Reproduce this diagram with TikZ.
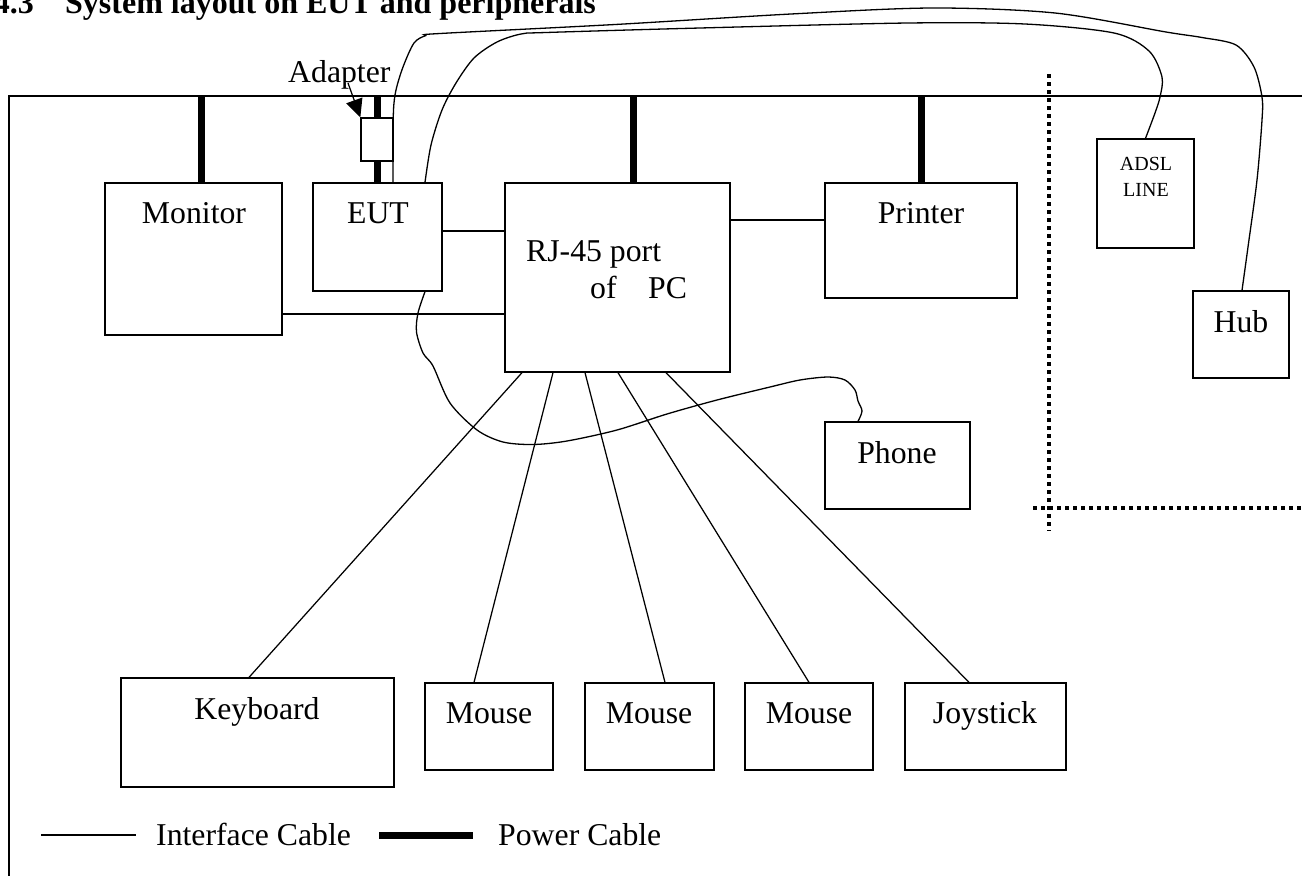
\documentclass[tikz,border=0pt]{standalone}
\usepackage{fontspec}
\setmainfont{Liberation Serif}
\usetikzlibrary{arrows.meta}
\begin{document}
\begin{tikzpicture}[x=1pt,y=-1pt,
  box/.style={draw, line width=1.3pt, inner sep=0pt},
  lbl/.style={font=\fontsize{31.75}{36}\selectfont, inner sep=0pt, anchor=base},
  small/.style={font=\fontsize{20}{24}\selectfont, inner sep=0pt, anchor=base},
  iface/.style={line width=1.25pt},
  power/.style={line width=7pt},
  dotline/.style={line width=3.5pt, dash pattern=on 3.5pt off 4.5pt},
  cable/.style={line width=1.3pt}
]
\useasboundingbox (0,0) rectangle (1302,876);

% title
\node[font=\bfseries\fontsize{32}{36}\selectfont, inner sep=0pt, anchor=base east] (secno) at (34,13) {4.3};
\node[font=\bfseries\fontsize{32}{36}\selectfont, inner sep=0pt, anchor=base west] (title) at (65,13) {System layout on EUT and peripherals};

% frame
\coordinate (fbl) at (9,876);
\coordinate (ftl) at (9,96);
\coordinate (ftr) at (1302,96);
\draw[line width=1.3pt] (fbl) -- (ftl) -- (ftr);

% boxes
\node[box, minimum width=177pt, minimum height=152pt] (monitor) at (193.5,259) {};
\node[box, minimum width=129pt, minimum height=108pt] (eut) at (377.5,237) {};
\node[box, minimum width=225pt, minimum height=189pt] (pc) at (617.5,277.5) {};
\node[box, minimum width=192pt, minimum height=115pt] (printer) at (921,240.5) {};
\node[box, minimum width=97pt, minimum height=109pt] (adsl) at (1145.5,193.5) {};
\node[box, minimum width=96pt, minimum height=87pt] (hub) at (1241,334.5) {};
\node[box, minimum width=145pt, minimum height=87pt] (phone) at (897.5,465.5) {};
\node[box, minimum width=273pt, minimum height=109pt] (keyboard) at (257.5,732.5) {};
\node[box, minimum width=128pt, minimum height=87pt] (mouseA) at (489,726.5) {};
\node[box, minimum width=129pt, minimum height=87pt] (mouseB) at (649.5,726.5) {};
\node[box, minimum width=128pt, minimum height=87pt] (mouseC) at (809,726.5) {};
\node[box, minimum width=161pt, minimum height=87pt] (joystick) at (985.5,726.5) {};
\node[box, minimum width=32pt, minimum height=43pt] (adapter) at (377,139.5) {};

% labels
\node[lbl] (monitorT) at (194,223) {Monitor};
\node[lbl] (eutT) at (378,223) {EUT};
\node[lbl] (printerT) at (921,223) {Printer};
\node[lbl] (hubT) at (1241,332) {Hub};
\node[lbl] (phoneT) at (897,463) {Phone};
\node[lbl] (keyboardT) at (257,719) {Keyboard};
\node[lbl] (mouseAT) at (489,723) {Mouse};
\node[lbl] (mouseBT) at (649,723) {Mouse};
\node[lbl] (mouseCT) at (809,723) {Mouse};
\node[lbl] (joystickT) at (985,723) {Joystick};
\node[small] (adslT) at (1146,170) {ADSL};
\node[small] (lineT) at (1146,196) {LINE};
\node[lbl, anchor=base west] (pcT1) at (526,261) {RJ-45 port};
\node[lbl, anchor=base west] (pcT2) at (590,298) {of\hspace{31.6pt}PC};
\node[lbl, anchor=base west] (adapterT) at (288,82) {Adapter};

% adapter arrow
\coordinate (adArrow) at ([xshift=60pt,yshift=-1pt]adapterT.base west);
\draw[iface, -{Triangle[length=18pt,width=17pt]}] (adArrow) -- (adapter.north west);

% power cables
\coordinate (pMon) at (201,96);
\coordinate (pEut) at (377,96);
\coordinate (pPc) at (633,96);
\coordinate (pPri) at (921,96);
\draw[power] (pMon) -- (pMon |- monitor.north);
\draw[power] (pEut) -- (adapter.north);
\draw[power] (adapter.south) -- (adapter.south |- eut.north);
\draw[power] (pPc) -- (pPc |- pc.north);
\draw[power] (pPri) -- (printer.north);

% interface cables
\draw[iface] ([yshift=6pt]eut.east) -- ([yshift=6pt]eut.east -| pc.west);
\draw[iface] ([yshift=-55pt]monitor.east) -- ([yshift=-55pt]monitor.east -| pc.west);
\draw[iface] ([yshift=57.5pt]pc.east) -- ([yshift=57.5pt]pc.east -| printer.west);
\draw[iface] ([xshift=-95.5pt]pc.south) -- ([xshift=-8.5pt]keyboard.north);
\draw[iface] ([xshift=-64.5pt]pc.south) -- ([xshift=-15pt]mouseA.north);
\draw[iface] ([xshift=-32.5pt]pc.south) -- ([xshift=15.5pt]mouseB.north);
\draw[iface] ([xshift=0.5pt]pc.south) -- (mouseC.north);
\draw[iface] ([xshift=48.5pt]pc.south) -- ([xshift=-16.5pt]joystick.north);

% curved cables
\coordinate (eutA) at ([xshift=15.5pt]eut.north);
\coordinate (eutB) at ([xshift=47.5pt]eut.north);
\coordinate (eutC) at ([xshift=47.5pt]eut.south);
\coordinate (hubA) at ([xshift=1pt]hub.north);
\coordinate (adslA) at (adsl.north);
\coordinate (phoneA) at ([xshift=-39.5pt]phone.north);

\draw[cable] plot[smooth, tension=0.5] coordinates {(eutA) (393,150) (393.5,110) (396,90) (403,67) (414,43) (426,35.5) (440,33.5) (615,24.5) (791,14) (932,8) (1055,13) (1166,32) (1202,37.5) (1236,45) (1254,67) (1262,97) (1262,120) (1257,180) (1248,247) (hubA)};

\draw[cable] plot[smooth, tension=0.5] coordinates {(eutB) (431,145) (442,110) (456,83) (474,58) (497,42) (521,34) (546,32.5) (700,28) (908,23) (1025,24) (1114,33) (1149,51) (1162,77) (1160,97) (1155,113) (adslA)};

\draw[cable] plot[smooth, tension=0.5] coordinates {(eutC) (418,313) (416.5,332) (423,353) (433,366) (450,403) (477,430) (503,442) (533,444.5) (567,441) (617,430) (667,414) (717,400) (770,387) (800,380) (828,377) (845,380) (855,390) (858,401) (862,411) (phoneA)};

% dotted boundary
\coordinate (dvT) at (1049,74);
\coordinate (dvB) at (1049,531);
\coordinate (dhL) at (1033,508);
\coordinate (dhR) at (1302,508);
\draw[dotline] (dvT) -- (dvB);
\draw[dotline] (dhL) -- (dhR);

% legend
\coordinate (l1a) at (41,835);
\coordinate (l1b) at (136,835);
\coordinate (l2a) at (379,835);
\coordinate (l2b) at (473,835);
\draw[iface] (l1a) -- (l1b);
\draw[power] (l2a) -- (l2b);
\node[lbl, anchor=base west] (legI) at (156,845) {Interface Cable};
\node[lbl, anchor=base west] (legP) at (498,845) {Power Cable};
\end{tikzpicture}
\end{document}
